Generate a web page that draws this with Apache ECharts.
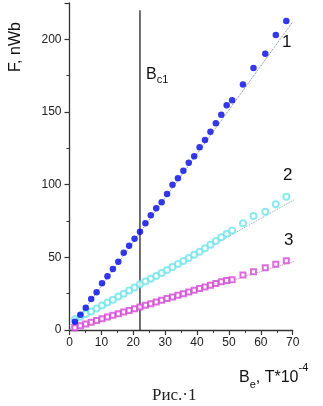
<!DOCTYPE html>
<html>
<head>
<meta charset="utf-8">
<script src="https://cdn.jsdelivr.net/npm/echarts@6/dist/echarts.min.js"></script>
<style>
html,body{margin:0;padding:0;background:#fff;}
#c{width:323px;height:406px;}
</style>
</head>
<body>
<div id="c"></div>
<script>
// field values B_e (T*10^-4)
var bField = [1.7,3.4,5.1,6.8,8.5,10.2,11.9,13.6,15.3,17.0,18.7,20.4,22.1,23.8,25.5,27.2,28.9,30.6,32.3,34.0,35.7,37.4,39.1,40.8,42.5,44.2,45.9,47.6,49.3,51.0,54.4,57.7,61.4,64.7,68.0];
// series 1 (filled blue circles)
var flux1 = [5.7,10.5,15.3,21.3,25.9,32.1,36.9,42.0,47.0,53.2,58.0,62.8,67.6,73.4,78.9,83.7,87.9,93.6,100.0,104.4,109.6,115.1,119.5,125.7,130.7,136.4,142.2,148.1,154.6,158.0,169.0,180.3,190.1,203.0,212.6];
// series 2 (cyan open circles)
var flux2 = [7.4,9.2,11.0,12.8,14.8,16.8,18.9,20.9,23.0,25.0,27.1,29.2,31.4,33.4,35.3,37.2,39.2,41.2,43.3,45.4,47.5,49.6,51.7,53.9,56.2,58.6,61.2,63.8,66.3,68.5,73.4,78.5,81.3,86.6,91.7];
// series 3 (magenta open squares)
var flux3 = [1.6,3.0,4.2,5.4,6.6,7.8,8.9,10.1,11.2,12.4,13.5,14.7,15.8,17.0,18.1,19.3,20.4,21.6,22.7,23.9,25.0,26.2,27.3,28.5,29.6,30.8,32.0,33.2,34.1,34.6,37.8,40.1,42.9,45.2,47.7];
// dotted linear fits (endpoints)
var fit1 = [[0,0],[70,212]];
var fit2 = [[0,3],[72,91.5]];
var fit3 = [[0,0],[72,48.2]];
// Bc1 marker
var bc1 = 22.1;
var bc1Top = 220;
var xTicks = [0,10,20,30,40,50,60,70];
var yTicks = [0,50,100,150,200];

function pairs(xs, ys){ return xs.map(function(x,i){ return [x, ys[i]]; }); }

var chart = echarts.init(document.getElementById('c'), null, {renderer:'canvas'});
var FONT = 'Liberation Sans, Arial, sans-serif';
var axisCol = '#333';

chart.setOption({
  animation:false,
  backgroundColor:'#fff',
  grid:{left:69.5, right:30.3, top:3, bottom:76},
  xAxis:{
    type:'value', min:0, max:70, interval:10,
    axisLine:{lineStyle:{color:axisCol, width:1.3}},
    axisTick:{inside:false, length:5, lineStyle:{color:axisCol, width:1.2}},
    minorTick:{show:true, splitNumber:2, length:3, lineStyle:{color:axisCol, width:1}},
    splitLine:{show:false},
    axisLabel:{color:'#222', fontSize:12, fontFamily:FONT, margin:7,
      formatter:function(v){ return xTicks.indexOf(v)>=0 ? String(v) : ''; }}
  },
  yAxis:{
    type:'value', min:0, max:225, interval:50,
    axisLine:{show:true, lineStyle:{color:axisCol, width:1.3}},
    axisTick:{show:true, inside:false, length:5, lineStyle:{color:axisCol, width:1.2}},
    minorTick:{show:true, splitNumber:2, length:3, lineStyle:{color:axisCol, width:1}},
    splitLine:{show:false},
    axisLabel:{color:'#222', fontSize:12, fontFamily:FONT, margin:8,
      formatter:function(v){ return yTicks.indexOf(v)>=0 ? String(v) : ''; }}
  },
  series:[
    {type:'line', data:fit1, showSymbol:false, symbol:'none', clip:false,
      lineStyle:{type:'dotted', color:'#7a7fb0', width:1}, z:1},
    {type:'line', data:fit2, showSymbol:false, symbol:'none', clip:false,
      lineStyle:{type:'dotted', color:'#8aa8b0', width:1}, z:1},
    {type:'line', data:fit3, showSymbol:false, symbol:'none', clip:false,
      lineStyle:{type:'dotted', color:'#b090b0', width:1}, z:1},
    {type:'line', data:[[bc1,0],[bc1,bc1Top]], showSymbol:false, symbol:'none',
      lineStyle:{color:'#111', width:1.2}, z:2},
    {type:'scatter', data:pairs(bField, flux1), symbol:'circle', symbolSize:6.5,
      itemStyle:{color:'#0008e0'}, z:5},
    {type:'scatter', data:pairs(bField, flux2), symbol:'emptyCircle', symbolSize:6,
      itemStyle:{color:'#6fe3ea', borderColor:'#6fe3ea', borderWidth:1}, z:4},
    {type:'scatter', data:pairs(bField, flux3), symbol:'emptyRect', symbolSize:5,
      itemStyle:{color:'#d447d4', borderColor:'#d447d4', borderWidth:1}, z:4}
  ],
  graphic:[
    {type:'text', x:16, y:47, rotation:Math.PI/2,
      style:{text:'F, nWb', font:'16px '+FONT, fill:'#111', textAlign:'center', textVerticalAlign:'middle'}, silent:true},
    {type:'text', x:146, y:64,
      style:{text:'{b|B}{s|c1}', rich:{b:{font:'16px '+FONT, fill:'#111'}, s:{font:'11px '+FONT, fill:'#111', verticalAlign:'bottom', padding:[10,0,0,0]}}}},
    {type:'text', x:282, y:34, style:{text:'1', font:'17px '+FONT, fill:'#111'}},
    {type:'text', x:283, y:167, style:{text:'2', font:'17px '+FONT, fill:'#111'}},
    {type:'text', x:284, y:232, style:{text:'3', font:'17px '+FONT, fill:'#111'}},
    {type:'text', x:239, y:362,
      style:{text:'{b|B}{s|e}{b|, T*10}{p|-4}', rich:{
        b:{font:'16px '+FONT, fill:'#111', verticalAlign:'bottom', padding:[8,0,0,0]},
        s:{font:'11px '+FONT, fill:'#111', verticalAlign:'bottom', padding:[0,0,-4,0]},
        p:{font:'11px '+FONT, fill:'#111', verticalAlign:'top', padding:[0,0,0,0]}}}},
    {type:'text', x:152, y:387, style:{text:'Рис.·1', font:'17px Liberation Serif, serif', fill:'#222'}}
  ]
});
</script>
</body>
</html>
